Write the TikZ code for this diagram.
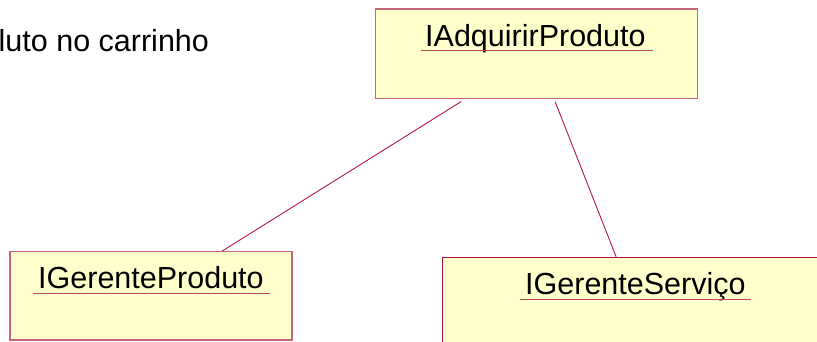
\documentclass[tikz,border=0pt]{standalone}
\usepackage{fontspec}
\setmainfont{Liberation Sans}
\definecolor{boxfill}{HTML}{FFFFCC}
\definecolor{boxedge}{HTML}{C8647A}
\definecolor{boxedgedark}{HTML}{A8143F}
\definecolor{linkcol}{HTML}{B01848}
\definecolor{ulcol}{HTML}{B8485A}
\begin{document}
\begin{tikzpicture}[x=1pt,y=-1pt,
  classbox/.style={draw=boxedge,fill=boxfill,line width=1.2pt,rectangle,inner sep=0pt},
  title/.style={inner sep=0pt,anchor=base west,font=\fontsize{30.5}{36}\selectfont},
  uline/.style={draw=ulcol,line width=1pt},
  link/.style={draw=linkcol,line width=0.9pt}]
\useasboundingbox (0,0) rectangle (817,342);
\clip (0,0) rectangle (817,342);
\fill[white] (0,0) rectangle (817,342);
% boxes
\node[classbox,minimum width=322pt,minimum height=89.7pt] (b1) at (536.7,53.85) {};
\node[classbox,minimum width=282pt,minimum height=88.3pt] (b2) at (151,295.85) {};
\node[classbox,draw=boxedgedark,minimum width=387.7pt,minimum height=88.7pt] (b3) at (636.15,301.65) {};
% titles
\node[title] (t1) at (425,46.7) {IAdquirirProduto};
\node[title] (t2) at (38,288.3) {IGerenteProduto};
\node[title] (t3) at (525,294) {IGerenteServiço};
\node[title] (t0) at (-1.5,51.7) {luto no carrinho};
% underlines
\draw[uline] ([xshift=-4pt,yshift=-4pt]t1.base west) -- ([xshift=7pt,yshift=-4pt]t1.base east);
\draw[uline] ([xshift=-5pt,yshift=-5pt]t2.base west) -- ([xshift=6pt,yshift=-5pt]t2.base east);
\draw[uline] ([xshift=-5pt,yshift=-5.3pt]t3.base west) -- ([xshift=5pt,yshift=-5.3pt]t3.base east);
% links
\draw[link] ([xshift=86pt,yshift=-2.3pt]b1.south west) -- ([xshift=212.7pt]b2.north west);
\draw[link] ([xshift=180pt,yshift=-2.3pt]b1.south west) -- ([xshift=174.4pt]b3.north west);
\end{tikzpicture}
\end{document}
